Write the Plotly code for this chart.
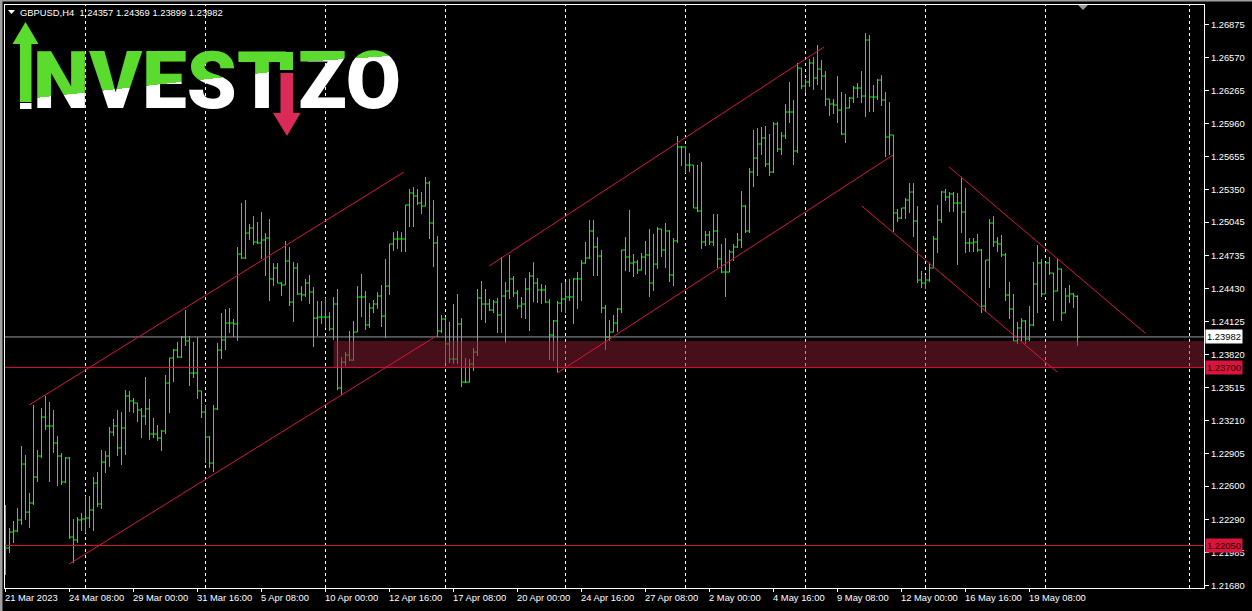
import plotly.graph_objects as go

# ---------------- data ----------------
symbol_header = "GBPUSD,H4\u00a0\u00a01.24357 1.24369 1.23899 1.23982"

opens = [
    1.22056, 1.22028, 1.22175, 1.22185, 1.22287, 1.22805, 1.22360, 1.22444, 1.22685, 1.22879,
    1.23240, 1.23157, 1.23157, 1.23000, 1.22879, 1.22638, 1.22861, 1.22129, 1.22102, 1.22287,
    1.22296, 1.22305, 1.22379, 1.22629, 1.22435, 1.22823, 1.22879, 1.23101, 1.23157, 1.22954,
    1.23139, 1.23435, 1.23389, 1.23370, 1.23305, 1.23249, 1.23315, 1.23083, 1.23083, 1.23046,
    1.23111, 1.23555, 1.23787, 1.23861, 1.23796, 1.23981, 1.23945, 1.23648, 1.23648, 1.23482,
    1.23286, 1.23055, 1.22814, 1.23315, 1.23861, 1.23954, 1.24111, 1.24111, 1.24102, 1.24750,
    1.24713, 1.24944, 1.24991, 1.24861, 1.24852, 1.24880, 1.24898, 1.24519, 1.24620, 1.24481,
    1.24463, 1.24685, 1.24305, 1.24620, 1.24380, 1.24371, 1.24481, 1.24398, 1.24157, 1.24166,
    1.24166, 1.24166, 1.24056, 1.24287, 1.23509, 1.23749, 1.23815, 1.23768, 1.24027, 1.24352,
    1.24352, 1.24093, 1.24250, 1.24287, 1.24361, 1.24175, 1.24453, 1.24843, 1.24889, 1.24889,
    1.24889, 1.25204, 1.25315, 1.25287, 1.25222, 1.25194, 1.25407, 1.25037, 1.24852, 1.24037,
    1.24148, 1.23917, 1.23778, 1.23778, 1.24102, 1.23564, 1.23564, 1.23731, 1.23842, 1.24343,
    1.24287, 1.24287, 1.24231, 1.24305, 1.24185, 1.24361, 1.24407, 1.24519, 1.24389, 1.24268,
    1.24287, 1.24426, 1.24546, 1.24481, 1.24417, 1.24417, 1.24305, 1.24000, 1.24130, 1.24296,
    1.24333, 1.24352, 1.24352, 1.24519, 1.24519, 1.24666, 1.24713, 1.24963, 1.24815, 1.24731,
    1.24250, 1.23981, 1.24027, 1.24111, 1.24241, 1.24787, 1.24722, 1.24666, 1.24675, 1.24602,
    1.24722, 1.24741, 1.24481, 1.24657, 1.24982, 1.24787, 1.24963, 1.24556, 1.24871, 1.25741,
    1.25741, 1.25574, 1.25574, 1.25176, 1.25148, 1.24861, 1.24926, 1.24861, 1.24963, 1.24704,
    1.24583, 1.24583, 1.24769, 1.24815, 1.24880, 1.25194, 1.24963, 1.25509, 1.25639, 1.25769,
    1.25824, 1.25583, 1.25509, 1.25954, 1.25722, 1.25843, 1.26065, 1.26065, 1.25704, 1.26472,
    1.26306, 1.26343, 1.26519, 1.26380, 1.26463, 1.26398, 1.26185, 1.26139, 1.26130, 1.26083,
    1.25861, 1.26102, 1.26194, 1.26287, 1.26287, 1.26213, 1.26732, 1.26204, 1.26204, 1.26361,
    1.26176, 1.25833, 1.25852, 1.25130, 1.25083, 1.25176, 1.25250, 1.25324, 1.25056, 1.24509,
    1.24481, 1.24509, 1.24620, 1.24889, 1.25065, 1.25324, 1.25278, 1.25306, 1.25222, 1.25222,
    1.25139, 1.24852, 1.24852, 1.24861, 1.24787, 1.24268, 1.24694, 1.25037, 1.24861, 1.24843,
    1.24741, 1.24370, 1.24241, 1.23944, 1.24065, 1.24130, 1.23963, 1.24093, 1.24472, 1.24667,
    1.24380, 1.24667, 1.24574, 1.24407, 1.24611, 1.24204, 1.24361, 1.24380, 1.24357,
]

highs = [
    1.22426, 1.22213, 1.22278, 1.22398, 1.22972, 1.22889, 1.22537, 1.23352, 1.22935, 1.23324,
    1.23435, 1.23379, 1.23305, 1.23064, 1.22907, 1.22870, 1.22870, 1.22296, 1.22314, 1.22351,
    1.22509, 1.22509, 1.22685, 1.22731, 1.22935, 1.22926, 1.23148, 1.23222, 1.23305, 1.23286,
    1.23491, 1.23482, 1.23417, 1.23370, 1.23324, 1.23611, 1.23408, 1.23231, 1.23167, 1.23120,
    1.23630, 1.23787, 1.23871, 1.23935, 1.23990, 1.24231, 1.23990, 1.23935, 1.23981, 1.23482,
    1.23352, 1.23064, 1.23352, 1.23926, 1.24203, 1.24241, 1.24250, 1.24148, 1.24815, 1.25222,
    1.25250, 1.25028, 1.25101, 1.25046, 1.25138, 1.24944, 1.25074, 1.24666, 1.24666, 1.24490,
    1.24871, 1.24815, 1.24675, 1.24666, 1.24453, 1.24519, 1.24556, 1.24444, 1.24315, 1.24315,
    1.24343, 1.24212, 1.24352, 1.24426, 1.23796, 1.23842, 1.24037, 1.24130, 1.24453, 1.24565,
    1.24408, 1.24296, 1.24324, 1.24398, 1.24463, 1.24704, 1.24843, 1.24953, 1.24963, 1.24953,
    1.25204, 1.25352, 1.25370, 1.25352, 1.25324, 1.25463, 1.25426, 1.25250, 1.24916, 1.24185,
    1.24166, 1.24120, 1.24287, 1.24380, 1.24157, 1.23787, 1.23778, 1.23880, 1.24426, 1.24500,
    1.24426, 1.24333, 1.24324, 1.24343, 1.24722, 1.24490, 1.24741, 1.24546, 1.24417, 1.24352,
    1.24528, 1.24583, 1.24675, 1.24528, 1.24472, 1.24463, 1.24333, 1.24139, 1.24315, 1.24481,
    1.24490, 1.24519, 1.24528, 1.24583, 1.24694, 1.24861, 1.25065, 1.25065, 1.24907, 1.24787,
    1.24278, 1.24139, 1.24185, 1.24250, 1.24787, 1.24907, 1.25157, 1.24750, 1.24694, 1.24759,
    1.24871, 1.24982, 1.24935, 1.25000, 1.24982, 1.25037, 1.24970, 1.24898, 1.25843, 1.25750,
    1.25745, 1.25685, 1.25574, 1.25574, 1.25602, 1.24963, 1.24963, 1.25120, 1.25120, 1.24843,
    1.24898, 1.24787, 1.24843, 1.24944, 1.25333, 1.25204, 1.25546, 1.25898, 1.25917, 1.25926,
    1.25935, 1.25861, 1.25972, 1.25972, 1.25880, 1.26139, 1.26343, 1.26176, 1.26519, 1.26472,
    1.26370, 1.26556, 1.26574, 1.26685, 1.26546, 1.26444, 1.26185, 1.26185, 1.26398, 1.26250,
    1.26232, 1.26204, 1.26306, 1.26333, 1.26444, 1.26796, 1.26778, 1.26315, 1.26370, 1.26407,
    1.26250, 1.26157, 1.25852, 1.25167, 1.25176, 1.25268, 1.25407, 1.25407, 1.25194, 1.24593,
    1.24556, 1.24666, 1.24916, 1.25204, 1.25333, 1.25352, 1.25324, 1.25324, 1.25315, 1.25463,
    1.25361, 1.24898, 1.24898, 1.24935, 1.24796, 1.24694, 1.25074, 1.25102, 1.24907, 1.24926,
    1.24759, 1.24491, 1.24380, 1.24120, 1.24157, 1.24139, 1.24268, 1.24676, 1.24833, 1.24704,
    1.24667, 1.24722, 1.24574, 1.24704, 1.24615, 1.24435, 1.24463, 1.24389, 1.24369,
]

lows = [
    1.21778, 1.21981, 1.22074, 1.22175, 1.22241, 1.22287, 1.22213, 1.22426, 1.22638, 1.22861,
    1.23120, 1.22638, 1.22907, 1.22601, 1.22611, 1.22629, 1.22111, 1.21888, 1.22074, 1.22185,
    1.22166, 1.22213, 1.22185, 1.22407, 1.22389, 1.22722, 1.22777, 1.23064, 1.22879, 1.22796,
    1.22889, 1.23286, 1.23277, 1.23194, 1.23046, 1.23167, 1.23028, 1.23046, 1.23019, 1.22926,
    1.23083, 1.23277, 1.23564, 1.23787, 1.23787, 1.23898, 1.23527, 1.23602, 1.23408, 1.23231,
    1.22814, 1.22768, 1.22731, 1.23305, 1.23778, 1.23861, 1.24018, 1.23981, 1.23945, 1.24704,
    1.24704, 1.24880, 1.24834, 1.24843, 1.24704, 1.24546, 1.24315, 1.24453, 1.24481, 1.24361,
    1.24463, 1.24268, 1.24120, 1.24371, 1.24315, 1.24352, 1.24287, 1.23889, 1.23990, 1.24102,
    1.24065, 1.24037, 1.23954, 1.23491, 1.23445, 1.23712, 1.23759, 1.23760, 1.24027, 1.24166,
    1.24046, 1.24065, 1.24203, 1.24241, 1.24074, 1.23972, 1.24371, 1.24778, 1.24797, 1.24768,
    1.24768, 1.25000, 1.25000, 1.25204, 1.25120, 1.25194, 1.24889, 1.24629, 1.23981, 1.24018,
    1.23740, 1.23740, 1.23731, 1.23731, 1.23518, 1.23555, 1.23560, 1.23667, 1.23805, 1.24139,
    1.24111, 1.24222, 1.24203, 1.24018, 1.24018, 1.23926, 1.24333, 1.24352, 1.24241, 1.24157,
    1.24148, 1.24037, 1.24305, 1.24296, 1.24287, 1.24296, 1.23768, 1.23759, 1.23648, 1.24212,
    1.24203, 1.24315, 1.24102, 1.24241, 1.24315, 1.24660, 1.24704, 1.24546, 1.24546, 1.24203,
    1.23861, 1.23945, 1.24027, 1.24027, 1.24203, 1.24593, 1.24583, 1.24537, 1.24565, 1.24600,
    1.24556, 1.24352, 1.24407, 1.24611, 1.24722, 1.24620, 1.24490, 1.24453, 1.24852, 1.25565,
    1.25500, 1.25509, 1.25176, 1.25139, 1.24796, 1.24824, 1.24834, 1.24824, 1.24620, 1.24574,
    1.24352, 1.24580, 1.24685, 1.24806, 1.24806, 1.24944, 1.24944, 1.25370, 1.25472, 1.25667,
    1.25556, 1.25472, 1.25500, 1.25694, 1.25667, 1.25815, 1.25963, 1.25574, 1.25685, 1.26278,
    1.26241, 1.26296, 1.26269, 1.26315, 1.26269, 1.26120, 1.26028, 1.26046, 1.25963, 1.25852,
    1.25778, 1.26102, 1.26148, 1.26195, 1.26148, 1.26019, 1.26065, 1.26065, 1.26176, 1.26120,
    1.25648, 1.25667, 1.24954, 1.25046, 1.25074, 1.25074, 1.25130, 1.24907, 1.24481, 1.24435,
    1.24426, 1.24490, 1.24620, 1.24759, 1.25037, 1.25241, 1.25139, 1.25139, 1.24648, 1.24944,
    1.24759, 1.24769, 1.24769, 1.24769, 1.24203, 1.24213, 1.24435, 1.24815, 1.24769, 1.24722,
    1.24315, 1.24148, 1.23944, 1.23916, 1.23944, 1.23916, 1.23944, 1.24083, 1.24203, 1.24352,
    1.24380, 1.24556, 1.24130, 1.24407, 1.24130, 1.24204, 1.24296, 1.24250, 1.23899,
]

closes = [
    1.22028, 1.22175, 1.22185, 1.22287, 1.22805, 1.22360, 1.22444, 1.22685, 1.22879, 1.23240,
    1.23157, 1.23157, 1.23000, 1.22879, 1.22638, 1.22861, 1.22129, 1.22102, 1.22287, 1.22296,
    1.22305, 1.22379, 1.22629, 1.22435, 1.22823, 1.22879, 1.23101, 1.23157, 1.22954, 1.23139,
    1.23435, 1.23389, 1.23370, 1.23305, 1.23249, 1.23315, 1.23083, 1.23083, 1.23046, 1.23111,
    1.23555, 1.23787, 1.23861, 1.23796, 1.23981, 1.23945, 1.23648, 1.23648, 1.23482, 1.23286,
    1.23055, 1.22814, 1.23315, 1.23861, 1.23954, 1.24111, 1.24111, 1.24102, 1.24750, 1.24713,
    1.24944, 1.24991, 1.24861, 1.24852, 1.24880, 1.24898, 1.24519, 1.24620, 1.24481, 1.24463,
    1.24685, 1.24305, 1.24620, 1.24380, 1.24371, 1.24481, 1.24398, 1.24157, 1.24166, 1.24166,
    1.24166, 1.24056, 1.24287, 1.23509, 1.23749, 1.23815, 1.23768, 1.24027, 1.24352, 1.24352,
    1.24093, 1.24250, 1.24287, 1.24361, 1.24175, 1.24453, 1.24843, 1.24889, 1.24889, 1.24889,
    1.25204, 1.25315, 1.25287, 1.25222, 1.25194, 1.25407, 1.25037, 1.24852, 1.24037, 1.24148,
    1.23917, 1.23778, 1.23778, 1.24102, 1.23564, 1.23564, 1.23731, 1.23842, 1.24343, 1.24287,
    1.24287, 1.24231, 1.24305, 1.24185, 1.24361, 1.24407, 1.24519, 1.24389, 1.24268, 1.24287,
    1.24426, 1.24546, 1.24481, 1.24417, 1.24417, 1.24305, 1.24000, 1.24130, 1.24296, 1.24333,
    1.24352, 1.24352, 1.24519, 1.24519, 1.24666, 1.24713, 1.24963, 1.24815, 1.24731, 1.24250,
    1.23981, 1.24027, 1.24111, 1.24241, 1.24787, 1.24722, 1.24666, 1.24675, 1.24602, 1.24722,
    1.24741, 1.24481, 1.24657, 1.24982, 1.24787, 1.24963, 1.24556, 1.24871, 1.25741, 1.25741,
    1.25574, 1.25574, 1.25176, 1.25148, 1.24861, 1.24926, 1.24861, 1.24963, 1.24704, 1.24583,
    1.24583, 1.24769, 1.24815, 1.24880, 1.25194, 1.24963, 1.25509, 1.25639, 1.25769, 1.25824,
    1.25583, 1.25509, 1.25954, 1.25722, 1.25843, 1.26065, 1.26065, 1.25704, 1.26472, 1.26306,
    1.26343, 1.26519, 1.26380, 1.26463, 1.26398, 1.26185, 1.26139, 1.26130, 1.26083, 1.25861,
    1.26102, 1.26194, 1.26287, 1.26287, 1.26213, 1.26732, 1.26204, 1.26204, 1.26361, 1.26176,
    1.25833, 1.25852, 1.25130, 1.25083, 1.25176, 1.25250, 1.25324, 1.25056, 1.24509, 1.24481,
    1.24509, 1.24620, 1.24889, 1.25065, 1.25324, 1.25278, 1.25306, 1.25222, 1.25222, 1.25139,
    1.24852, 1.24852, 1.24861, 1.24787, 1.24268, 1.24694, 1.25037, 1.24861, 1.24843, 1.24741,
    1.24370, 1.24241, 1.23944, 1.24065, 1.24130, 1.23963, 1.24093, 1.24472, 1.24667, 1.24380,
    1.24667, 1.24574, 1.24407, 1.24611, 1.24204, 1.24361, 1.24380, 1.24361, 1.23982,
]

x_tick_labels = [
    "21 Mar 2023", "24 Mar 08:00", "29 Mar 00:00", "31 Mar 16:00", "5 Apr 08:00",
    "10 Apr 00:00", "12 Apr 16:00", "17 Apr 08:00", "20 Apr 00:00", "24 Apr 16:00",
    "27 Apr 08:00", "2 May 00:00", "4 May 16:00", "9 May 08:00", "12 May 00:00",
    "16 May 16:00", "19 May 08:00",
]
bars_per_label = 16

y_tick_labels = [
    "1.26875", "1.26570", "1.26265", "1.25960", "1.25655", "1.25350", "1.25045",
    "1.24735", "1.24430", "1.24125", "1.23820", "1.23515", "1.23210", "1.22905",
    "1.22600", "1.22290", "1.21985", "1.21680",
]

bid_price = 1.23982
level_prices = [1.23700, 1.22050]
zone_bar_start = 82
zone_prices = [1.23700, 1.23945]

# trend lines: (bar0, price0, bar1, price1)
trend_lines = [
    (5.9, 1.23352, 99.6, 1.25509),
    (15.9, 1.21879, 108.1, 1.23999),
    (120.9, 1.24639, 204.6, 1.26667),
    (137.9, 1.23648, 221.9, 1.25667),
    (235.9, 1.25556, 284.9, 1.24018),
    (214.1, 1.25194, 262.9, 1.23657),
]

grid_bars = [20, 50, 80, 110, 140, 170, 200, 230, 260, 296]

# ---------------- styling / layout ----------------
W, H = 1252, 611
ML, MR, MT, MB = 5, 48, 5, 23
PW, PH = W - ML - MR, H - MT - MB
X0 = -0.125
X1 = X0 + PW / 4.0
Y_TOP, Y_BOT = 1.27056, 1.21657

GREEN = "#00FF00"
CRIMSON = "#DC143C"
LOGO_GREEN = "#5ADB2E"
LOGO_RED = "#DA2A58"
FONT = "Liberation Sans, Arial, sans-serif"
FS = 9.4


def px(x):
    return (x - ML) / PW


def py(y):
    return (MT + PH - y) / PH


idx = list(range(len(closes)))

fig = go.Figure()
fig.add_trace(go.Ohlc(
    x=idx, open=opens, high=highs, low=lows, close=closes,
    increasing=dict(line=dict(color=GREEN, width=1)),
    decreasing=dict(line=dict(color=GREEN, width=1)),
    tickwidth=0.5, hoverinfo="skip", showlegend=False,
))

shapes = []
for g in grid_bars:
    shapes.append(dict(type="line", xref="x", yref="paper", x0=g, x1=g, y0=0, y1=1,
                       line=dict(color="white", width=1, dash="dot"), layer="below"))

# support zone
shapes.append(dict(type="rect", xref="x", yref="y", x0=zone_bar_start, x1=X1 + 5,
                   y0=zone_prices[0], y1=zone_prices[1],
                   fillcolor="rgb(140,30,50)", opacity=0.5, line=dict(width=0), layer="above"))
# horizontal lines
shapes.append(dict(type="line", xref="paper", yref="y", x0=0, x1=1, y0=bid_price, y1=bid_price,
                   line=dict(color="#9A9AA2", width=1), layer="above"))
for lp in level_prices:
    shapes.append(dict(type="line", xref="paper", yref="y", x0=0, x1=1, y0=lp, y1=lp,
                       line=dict(color=CRIMSON, width=1), layer="above"))
for (b0, p0, b1, p1) in trend_lines:
    shapes.append(dict(type="line", xref="x", yref="y", x0=b0, y0=p0, x1=b1, y1=p1,
                       line=dict(color=CRIMSON, width=1), layer="above"))

# window frame (gray edges)
shapes.append(dict(type="rect", xref="paper", yref="paper", x0=px(0), x1=px(2.5),
                   y0=py(611), y1=py(0), fillcolor="#A0A0A0", line=dict(width=0)))
shapes.append(dict(type="rect", xref="paper", yref="paper", x0=px(0), x1=px(1252),
                   y0=py(1.5), y1=py(0), fillcolor="#A0A0A0", line=dict(width=0)))

# header triangle
shapes.append(dict(type="path", xref="paper", yref="paper",
                   path=f"M {px(8)} {py(10)} L {px(15)} {py(10)} L {px(11.5)} {py(14)} Z",
                   fillcolor="white", line=dict(width=0)))
# chart shift marker
shapes.append(dict(type="path", xref="paper", yref="paper",
                   path=f"M {px(1078)} {py(5)} L {px(1088)} {py(5)} L {px(1083)} {py(10)} Z",
                   fillcolor="#9A9A9A", line=dict(width=0)))

# logo: up arrow (first I)
shapes.append(dict(type="path", xref="paper", yref="paper",
                   path=(f"M {px(25.5)} {py(22)} L {px(38.5)} {py(44)} L {px(31.5)} {py(44)} "
                         f"L {px(31.5)} {py(102)} L {px(20)} {py(102)} L {px(20)} {py(44)} "
                         f"L {px(12.5)} {py(44)} Z"),
                   fillcolor=LOGO_GREEN, line=dict(width=0), layer="above"))
shapes.append(dict(type="rect", xref="paper", yref="paper",
                   x0=px(20), x1=px(31.5), y0=py(109), y1=py(103),
                   fillcolor="white", line=dict(width=0), layer="above"))
# logo: second I (green top, red down arrow)
shapes.append(dict(type="rect", xref="paper", yref="paper",
                   x0=px(280), x1=px(293), y0=py(70), y1=py(52),
                   fillcolor=LOGO_GREEN, line=dict(width=0), layer="above"))
shapes.append(dict(type="path", xref="paper", yref="paper",
                   path=(f"M {px(280.5)} {py(73)} L {px(293)} {py(73)} L {px(293)} {py(113)} "
                         f"L {px(300.5)} {py(113)} L {px(287)} {py(136)} L {px(273)} {py(113)} "
                         f"L {px(280.5)} {py(113)} Z"),
                   fillcolor=LOGO_RED, line=dict(width=0), layer="above"))

annotations = []
for k, lab in enumerate(x_tick_labels):
    annotations.append(dict(x=k * bars_per_label, xref="x", y=0, yref="paper",
                            xanchor="left", yanchor="top", xshift=-3, yshift=-2,
                            text=lab, showarrow=False,
                            font=dict(family=FONT, size=FS, color="white")))

annotations.append(dict(x=px(20), y=py(12.5), xref="paper", yref="paper",
                        xanchor="left", yanchor="middle", xshift=-2,
                        text=symbol_header, showarrow=False,
                        font=dict(family=FONT, size=FS, color="white")))

annotations.append(dict(x=1, xref="paper", y=bid_price, yref="y", xanchor="left", yanchor="middle",
                        xshift=1, text=f"{bid_price:.5f}", showarrow=False, bgcolor="white",
                        borderpad=1, font=dict(family=FONT, size=FS, color="black")))
for lp in level_prices:
    annotations.append(dict(x=1, xref="paper", y=lp, yref="y", xanchor="left", yanchor="middle",
                            xshift=1, text=f"{lp:.5f}", showarrow=False, bgcolor=CRIMSON,
                            borderpad=1, font=dict(family=FONT, size=FS, color="#200000")))

LOGO_FONT = "Roboto, Open Sans, DejaVu Sans, sans-serif"
annotations.append(dict(x=px(33), y=py(81), xref="paper", yref="paper", xanchor="left",
                        yanchor="middle", xshift=-2, text="NVEST", showarrow=False,
                        font=dict(family=LOGO_FONT, size=80, color=LOGO_GREEN, weight=900)))
annotations.append(dict(x=px(298), y=py(81), xref="paper", yref="paper", xanchor="left",
                        yanchor="middle", xshift=-2, text="ZO", showarrow=False,
                        font=dict(family=LOGO_FONT, size=80, color="white", weight=900)))

fig.update_layout(
    width=W, height=H,
    margin=dict(l=ML, r=MR, t=MT, b=MB, pad=0),
    paper_bgcolor="black", plot_bgcolor="black",
    showlegend=False,
    shapes=shapes, annotations=annotations,
    xaxis=dict(range=[X0, X1], rangeslider=dict(visible=False), showgrid=False, zeroline=False,
               showline=True, linecolor="white", linewidth=1, mirror=True,
               tickvals=[k * bars_per_label for k in range(len(x_tick_labels))],
               ticks="outside", ticklen=3, tickcolor="white", showticklabels=False),
    yaxis=dict(range=[Y_BOT, Y_TOP], side="right", showgrid=False, zeroline=False,
               showline=True, linecolor="white", linewidth=1, mirror=True,
               tickvals=[float(t) for t in y_tick_labels], ticktext=y_tick_labels,
               ticks="outside", ticklen=4, tickcolor="white",
               tickfont=dict(family=FONT, size=FS, color="white")),
)

post_js = r"""
(function(){
document.documentElement.style.margin='0';
document.documentElement.style.padding='0';
document.documentElement.style.background='black';
document.body.style.margin='0';
document.body.style.padding='0';
document.body.style.background='black';
document.body.style.overflow='hidden';
var gd=document.getElementById('{plot_id}');
var grads={
  'NVEST':{id:'lg_nvest', fa:0.684, fb:0.386},
  'ZO':{id:'lg_zo', fa:0.30, fb:0.226}
};
function apply(){
  var ns='http://www.w3.org/2000/svg';
  if(!document.getElementById('logo-defs')){
    var s=document.createElementNS(ns,'svg');
    s.setAttribute('id','logo-defs'); s.setAttribute('width','0'); s.setAttribute('height','0');
    s.style.position='absolute'; s.style.left='0'; s.style.top='0';
    var d=document.createElementNS(ns,'defs'); s.appendChild(d);
    Object.keys(grads).forEach(function(key){
      var g=grads[key]; var k=0.05; var cy=(g.fa+g.fb)/2; var nx=(g.fa-g.fb);
      var lg=document.createElementNS(ns,'linearGradient');
      lg.setAttribute('id',g.id);
      lg.setAttribute('x1',0.5-k*nx); lg.setAttribute('y1',cy-k);
      lg.setAttribute('x2',0.5+k*nx); lg.setAttribute('y2',cy+k);
      [['0.5','#5ADB2E'],['0.5','#FFFFFF']].forEach(function(st){
        var e=document.createElementNS(ns,'stop');
        e.setAttribute('offset',st[0]); e.setAttribute('stop-color',st[1]); lg.appendChild(e);
      });
      d.appendChild(lg);
    });
    document.body.appendChild(s);
  }
  gd.querySelectorAll('text.annotation-text').forEach(function(t){
    var g=grads[t.textContent];
    if(g){ t.style.fill='url(#'+g.id+')'; }
  });
}
apply();
if(gd.on){ gd.on('plotly_afterplot', apply); }
})();
"""

fig.write_html("out.html", config={"displayModeBar": False}, post_script=post_js)
